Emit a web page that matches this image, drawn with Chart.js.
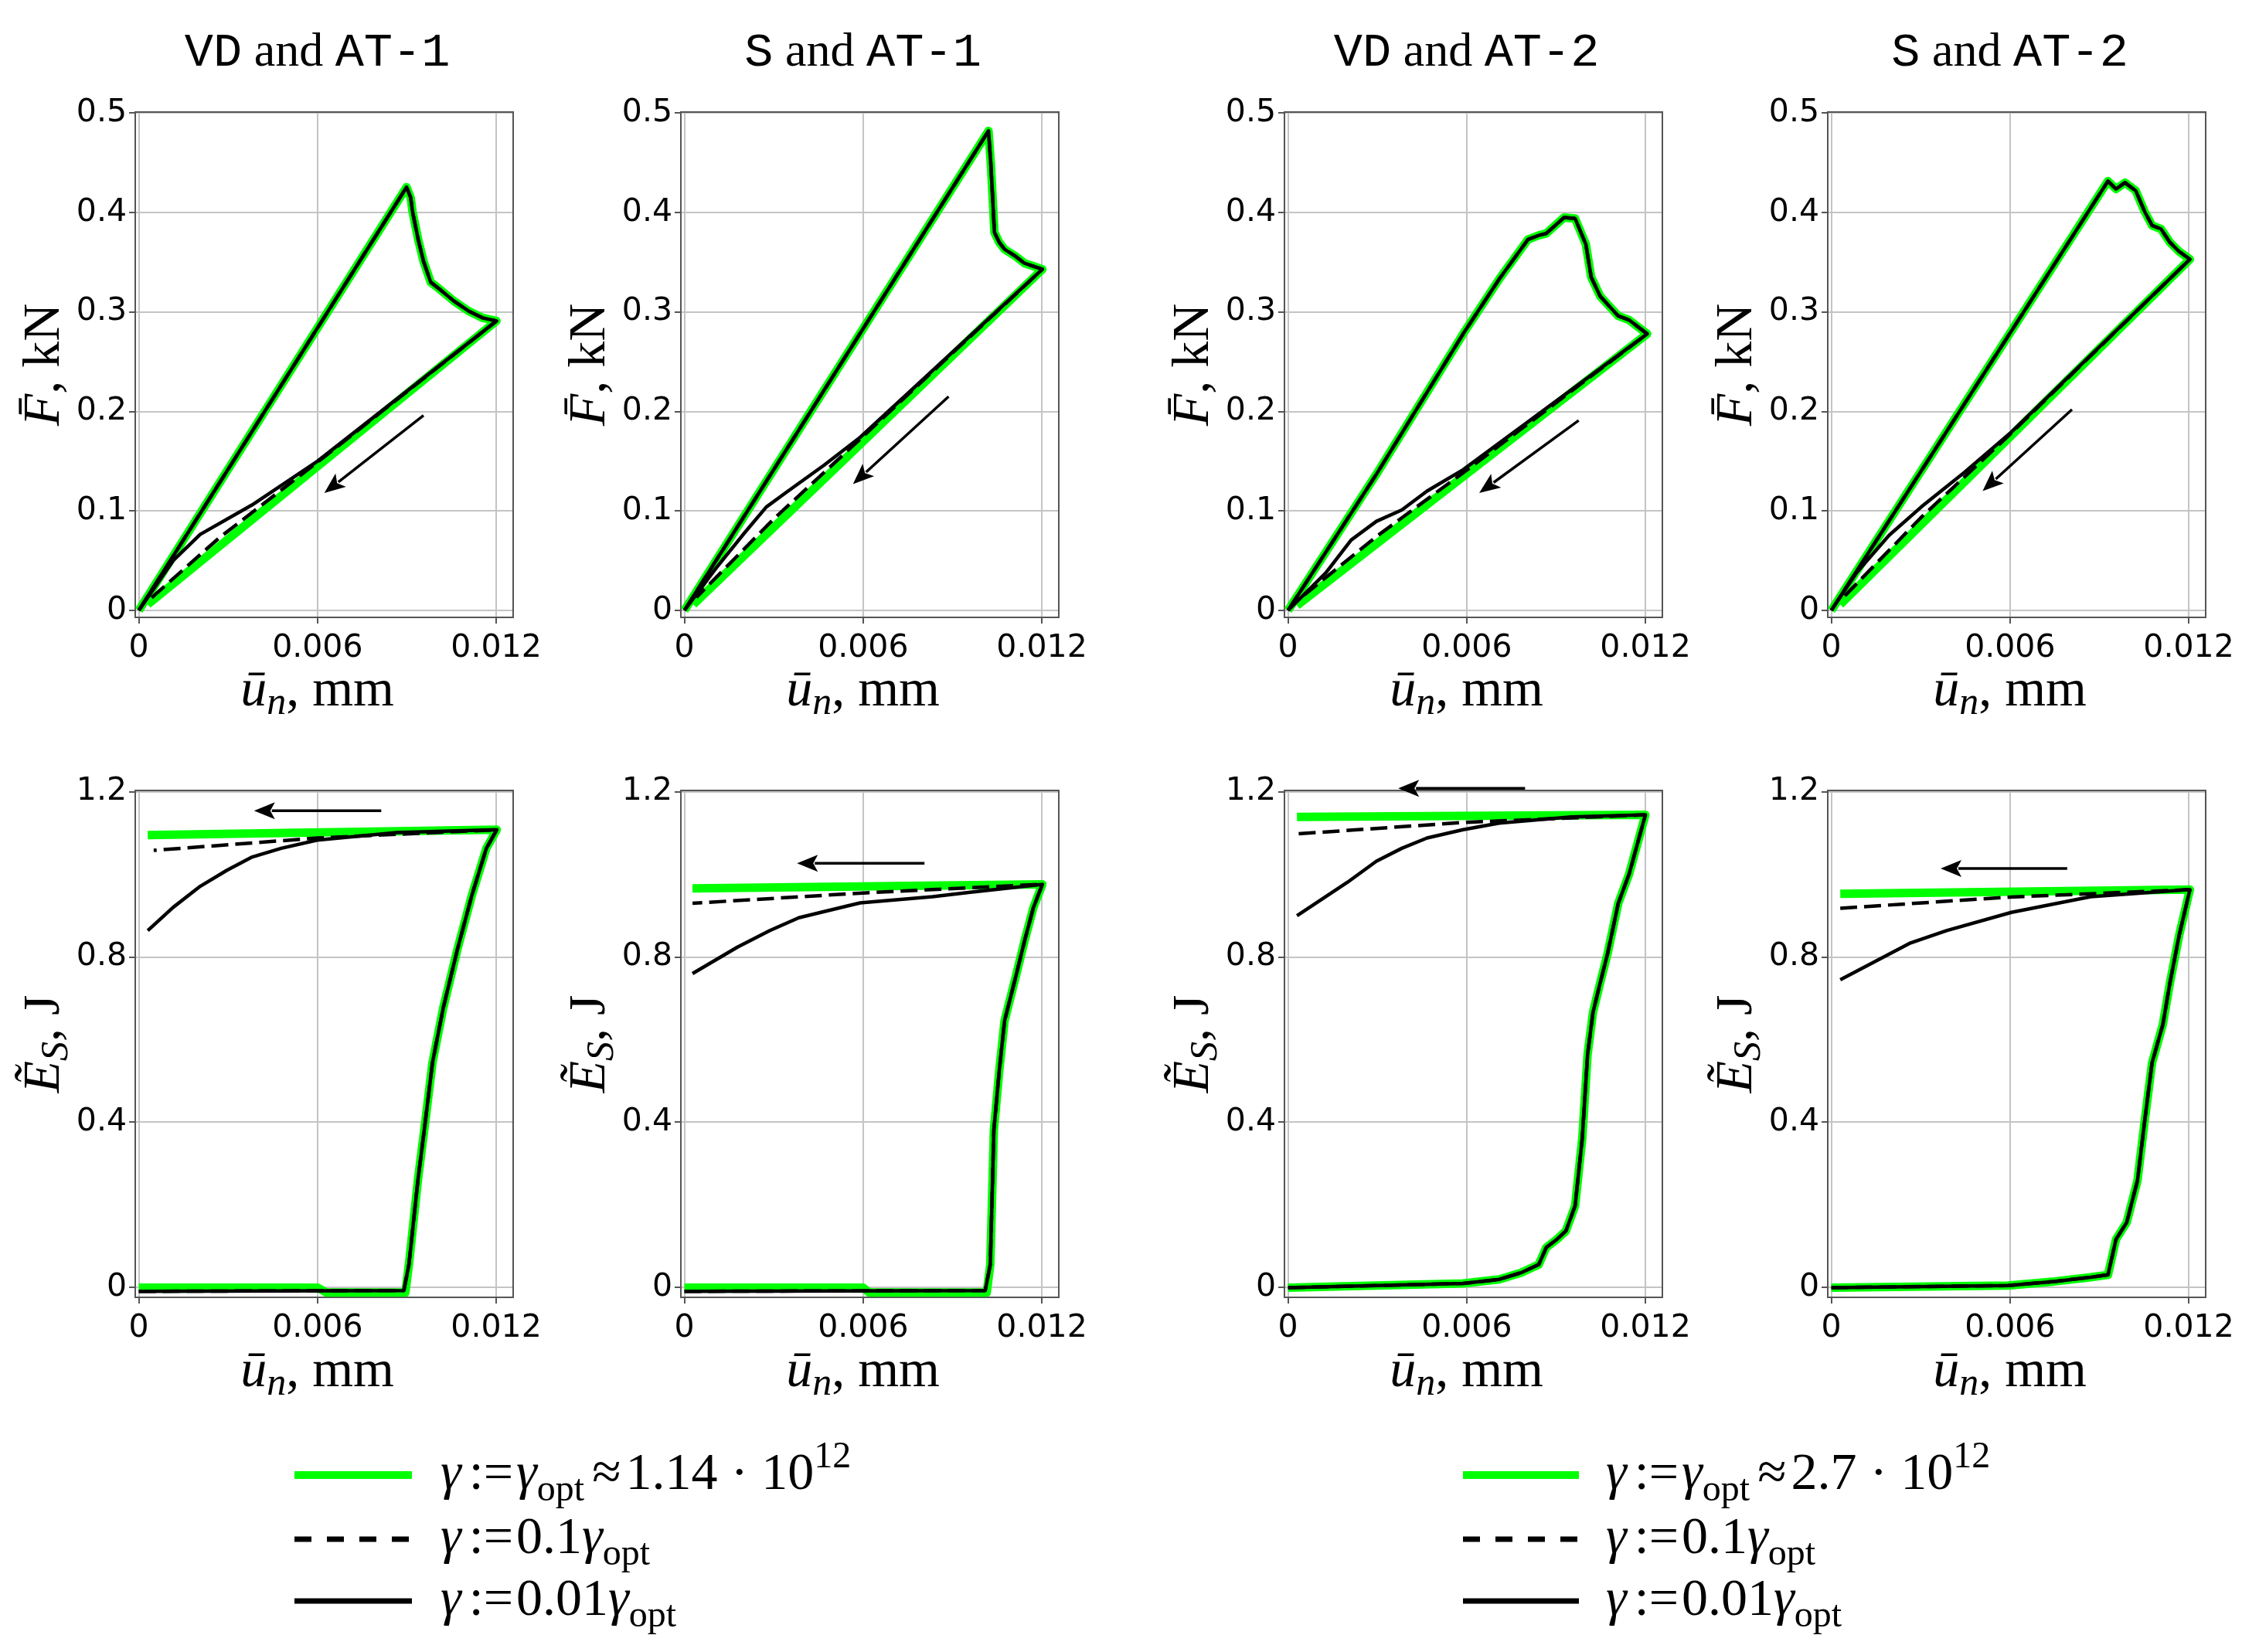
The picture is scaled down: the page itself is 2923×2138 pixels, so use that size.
<!DOCTYPE html>
<html>
<head>
<meta charset="utf-8">
<script src="https://cdn.jsdelivr.net/npm/chart.js@4.4.1/dist/chart.umd.min.js"></script>
<style>
  html, body { margin: 0; padding: 0; background: #fff; }
  #page { position: relative; width: 2923px; height: 2138px; overflow: hidden; background: #fff; }
  .cell { position: absolute; }
  #overlay { position: absolute; left: 0; top: 0; pointer-events: none; }
</style>
</head>
<body>
<div id="page"></div>
<script>
// ---- axis ticks and labels ----
const xTicks = [0, 0.006, 0.012];
const forceTicks = [0, 0.1, 0.2, 0.3, 0.4, 0.5];
const energyTicks = [0, 0.4, 0.8, 1.2];
const panelTitles = [['VD', 'AT-1'], ['S', 'AT-1'], ['VD', 'AT-2'], ['S', 'AT-2']];
const gammaOpt = ['1.14', '2.7'];

// ---- force curves [u, F] : loading branch, then unloading for each gamma ----
const forceLoadVD1 = [[0,0],[0.00899,0.4255],[0.00913,0.415],[0.00919,0.401],[0.00938,0.373],[0.00956,0.351],[0.0098,0.330],[0.0101,0.323],[0.01058,0.311],[0.01107,0.301],[0.01155,0.294],[0.01201,0.291]];
const forceOptVD1 = [[0.0003,0.006]];
const forceTenthVD1 = [[0.006,0.149],[0.0027,0.073],[0.0004,0.012]];
const forceHundredthVD1 = [[0.006,0.150],[0.0038,0.106],[0.00206,0.0764],[0.00115,0.050],[0,0]];

const forceLoadS1 = [[0,0],[0.01021,0.482],[0.01029,0.448],[0.01041,0.380],[0.01057,0.370],[0.01075,0.363],[0.01112,0.356],[0.01142,0.349],[0.01172,0.346],[0.01202,0.343]];
const forceOptS1 = [[0.0003,0.006]];
const forceTenthS1 = [[0.006,0.175],[0.003,0.092],[0.0004,0.013]];
const forceHundredthS1 = [[0.0059,0.174],[0.00469,0.146],[0.00348,0.120],[0.00275,0.104],[0.00202,0.078],[0.00105,0.042],[0,0]];

const forceLoadVD2 = [[0,0],[0.00297,0.137],[0.00588,0.278],[0.00709,0.333],[0.00806,0.373],[0.00842,0.377],[0.00867,0.379],[0.00927,0.395],[0.00964,0.394],[0.0100,0.368],[0.01018,0.335],[0.01048,0.316],[0.01109,0.296],[0.01145,0.292],[0.01206,0.278]];
const forceOptVD2 = [[0.0003,0.005]];
const forceTenthVD2 = [[0.006,0.141],[0.003,0.075],[0.0004,0.012]];
const forceHundredthVD2 = [[0.00588,0.1415],[0.00467,0.120],[0.00382,0.101],[0.00297,0.0896],[0.00212,0.0708],[0.00127,0.0377],[0,0]];

const forceLoadS2 = [[0,0],[0.00929,0.4316],[0.00956,0.4236],[0.00986,0.430],[0.01022,0.422],[0.01052,0.401],[0.01077,0.387],[0.01107,0.3835],[0.01137,0.370],[0.01167,0.361],[0.01204,0.353]];
const forceOptS2 = [[0.0003,0.006]];
const forceTenthS2 = [[0.006,0.177],[0.003,0.093],[0.0004,0.013]];
const forceHundredthS2 = [[0.006,0.178],[0.00448,0.139],[0.00302,0.104],[0.00194,0.0755],[0.00085,0.038],[0,0]];

// ---- energy curves [u, E] ----
const energyFlatOptVD1 = [[0,0],[0.006,0],[0.0063,-0.012],[0.00895,-0.012]];
const energyFlatBlackVD1 = [[0,-0.009],[0.0089,-0.007]];
const energyRiseVD1 = [[0.00907,0.056],[0.00937,0.259],[0.00962,0.402],[0.00986,0.544],[0.01022,0.676],[0.0107,0.819],[0.01119,0.951],[0.01167,1.063],[0.01202,1.108]];
const energyOptVD1 = [[0.0003,1.095]];
const energyTenthVD1 = [[0.006,1.088],[0.0005,1.058]];
const energyHundredthVD1 = [[0.00865,1.101],[0.00599,1.083],[0.00478,1.063],[0.00381,1.042],[0.00296,1.010],[0.00206,0.971],[0.00115,0.920],[0.0003,0.864]];

const energyFlatOptS1 = [[0,0],[0.006,0],[0.0062,-0.012],[0.01015,-0.012]];
const energyFlatBlackS1 = [[0,-0.009],[0.0101,-0.007]];
const energyRiseS1 = [[0.01027,0.056],[0.01039,0.381],[0.01057,0.524],[0.01075,0.646],[0.01111,0.748],[0.01142,0.839],[0.01172,0.92],[0.01202,0.976]];
const energyOptS1 = [[0.00027,0.966]];
const energyTenthS1 = [[0.006,0.955],[0.00027,0.93]];
const energyHundredthS1 = [[0.00954,0.956],[0.00833,0.946],[0.0059,0.931],[0.00469,0.91],[0.00384,0.895],[0.00287,0.864],[0.00178,0.824],[0.00027,0.76]];

const energyLoadVD2 = [[0,0],[0.00588,0.010],[0.00709,0.020],[0.00782,0.036],[0.00842,0.056],[0.00867,0.097],[0.00903,0.117],[0.00933,0.137],[0.00964,0.198],[0.00988,0.361],[0.01006,0.565],[0.01024,0.666],[0.01048,0.737],[0.01073,0.808],[0.01109,0.93],[0.01145,1.0],[0.012,1.144]];
const energyOptVD2 = [[0.0003,1.139]];
const energyTenthVD2 = [[0.006,1.126],[0.0003,1.098]];
const energyHundredthVD2 = [[0.00951,1.139],[0.00709,1.124],[0.00588,1.108],[0.00467,1.088],[0.00382,1.063],[0.00297,1.032],[0.002,0.981],[0.0003,0.9]];

const energyLoadS2 = [[0,0],[0.00593,0.005],[0.0075,0.015],[0.00871,0.025],[0.00929,0.031],[0.00956,0.117],[0.00992,0.158],[0.01028,0.259],[0.01052,0.402],[0.01077,0.544],[0.01113,0.636],[0.01137,0.737],[0.01167,0.849],[0.01204,0.963]];
const energyOptS2 = [[0.0003,0.953]];
const energyTenthS2 = [[0.006,0.945],[0.0003,0.918]];
const energyHundredthS2 = [[0.00871,0.946],[0.00605,0.908],[0.00387,0.864],[0.00266,0.834],[0.0003,0.745]];

// arrows [tail, head] in data units
const forceArrows = [[[0.00956,0.196],[0.00623,0.118]], [[0.00887,0.215],[0.00566,0.127]], [[0.00976,0.191],[0.00642,0.118]], [[0.00808,0.202],[0.00508,0.120]]];
const energyArrows = [[[0.00814,1.154],[0.00387,1.154]], [[0.00806,1.027],[0.00378,1.027]], [[0.00796,1.208],[0.0037,1.208]], [[0.00792,1.014],[0.00367,1.014]]];

// ---- layout ----
const frameLefts = [175, 881, 1662, 2365];
const frameW = 489;
const rows = [
  { top: 145, h: 654, min: -0.007, max: 0.501, ticks: forceTicks },
  { top: 1023, h: 656, min: -0.0235, max: 1.203, ticks: energyTicks }
];
const GREEN = '#00ff00';

const panels = [
  { row: 0, col: 0, green: forceLoadVD1.concat(forceOptVD1), dashed: forceLoadVD1.concat(forceTenthVD1), solid: forceLoadVD1.concat(forceHundredthVD1), arrow: forceArrows[0] },
  { row: 0, col: 1, green: forceLoadS1.concat(forceOptS1), dashed: forceLoadS1.concat(forceTenthS1), solid: forceLoadS1.concat(forceHundredthS1), arrow: forceArrows[1] },
  { row: 0, col: 2, green: forceLoadVD2.concat(forceOptVD2), dashed: forceLoadVD2.concat(forceTenthVD2), solid: forceLoadVD2.concat(forceHundredthVD2), arrow: forceArrows[2] },
  { row: 0, col: 3, green: forceLoadS2.concat(forceOptS2), dashed: forceLoadS2.concat(forceTenthS2), solid: forceLoadS2.concat(forceHundredthS2), arrow: forceArrows[3] },
  { row: 1, col: 0, green: energyFlatOptVD1.concat(energyRiseVD1, energyOptVD1), dashed: energyFlatBlackVD1.concat(energyRiseVD1, energyTenthVD1), solid: energyFlatBlackVD1.concat(energyRiseVD1, energyHundredthVD1), arrow: energyArrows[0] },
  { row: 1, col: 1, green: energyFlatOptS1.concat(energyRiseS1, energyOptS1), dashed: energyFlatBlackS1.concat(energyRiseS1, energyTenthS1), solid: energyFlatBlackS1.concat(energyRiseS1, energyHundredthS1), arrow: energyArrows[1] },
  { row: 1, col: 2, green: energyLoadVD2.concat(energyOptVD2), dashed: energyLoadVD2.concat(energyTenthVD2), solid: energyLoadVD2.concat(energyHundredthVD2), arrow: energyArrows[2] },
  { row: 1, col: 3, green: energyLoadS2.concat(energyOptS2), dashed: energyLoadS2.concat(energyTenthS2), solid: energyLoadS2.concat(energyHundredthS2), arrow: energyArrows[3] }
];

const toXY = pts => pts.map(p => ({ x: p[0], y: p[1] }));

// frame around the plot and the direction arrow
const framePlugin = {
  id: 'frame',
  beforeDatasetsDraw(chart) {
    const a = chart.chartArea, c = chart.ctx;
    c.save();
    c.strokeStyle = '#555';
    c.lineWidth = 2;
    c.strokeRect(a.left, a.top, a.right - a.left, a.bottom - a.top);
    c.restore();
  },
  afterDatasetsDraw(chart, args, opts) {
    if (!opts.arrow) return;
    const xs = chart.scales.x, ys = chart.scales.y, c = chart.ctx;
    const x1 = xs.getPixelForValue(opts.arrow[0][0]), y1 = ys.getPixelForValue(opts.arrow[0][1]);
    const x2 = xs.getPixelForValue(opts.arrow[1][0]), y2 = ys.getPixelForValue(opts.arrow[1][1]);
    const ang = Math.atan2(y2 - y1, x2 - x1);
    const hl = 27, hw = 11;
    const bx = x2 - hl * Math.cos(ang), by = y2 - hl * Math.sin(ang);
    c.save();
    c.strokeStyle = '#000';
    c.fillStyle = '#000';
    c.lineWidth = 3.5;
    c.beginPath(); c.moveTo(x1, y1); c.lineTo(bx + 4 * Math.cos(ang), by + 4 * Math.sin(ang)); c.stroke();
    c.beginPath();
    c.moveTo(x2, y2);
    c.lineTo(bx + hw * Math.sin(ang), by - hw * Math.cos(ang));
    c.lineTo(bx + 6 * Math.cos(ang), by + 6 * Math.sin(ang));
    c.lineTo(bx - hw * Math.sin(ang), by + hw * Math.cos(ang));
    c.closePath();
    c.fill();
    c.restore();
  }
};

const page = document.getElementById('page');
const tickFont = { family: 'DejaVu Sans', size: 41 };

panels.forEach(p => {
  const r = rows[p.row];
  const left = frameLefts[p.col];
  const div = document.createElement('div');
  div.className = 'cell';
  div.style.left = (left - 150) + 'px';
  div.style.top = (r.top - 40) + 'px';
  div.style.width = (frameW + 210) + 'px';
  div.style.height = (r.h + 120) + 'px';
  const cv = document.createElement('canvas');
  div.appendChild(cv);
  page.appendChild(div);

  new Chart(cv, {
    type: 'scatter',
    data: {
      datasets: [
        { data: toXY(p.solid), showLine: true, borderColor: '#000', borderWidth: 4.5, pointRadius: 0, borderJoinStyle: 'round' },
        { data: toXY(p.dashed), showLine: true, borderColor: '#000', borderWidth: 4.5, borderDash: [22, 9], pointRadius: 0, borderJoinStyle: 'round' },
        { data: toXY(p.green), showLine: true, borderColor: GREEN, borderWidth: 11, pointRadius: 0, borderJoinStyle: 'round' }
      ]
    },
    plugins: [framePlugin],
    options: {
      responsive: true,
      maintainAspectRatio: false,
      animation: false,
      devicePixelRatio: 1,
      layout: { padding: { top: 40, right: 60, left: 0, bottom: 0 } },
      plugins: {
        legend: { display: false },
        tooltip: { enabled: false },
        frame: { arrow: p.arrow }
      },
      scales: {
        x: {
          type: 'linear',
          min: -0.00012,
          max: 0.01257,
          afterBuildTicks: s => { s.ticks = xTicks.map(v => ({ value: v })); },
          afterFit: s => { s.height = 80; },
          ticks: { font: tickFont, color: '#000', padding: 8, maxRotation: 0, minRotation: 0, autoSkip: false, callback: v => String(v) },
          grid: { color: '#c4c4c4', lineWidth: 2, tickLength: 8, tickColor: '#555', tickWidth: 2 },
          border: { display: false }
        },
        y: {
          type: 'linear',
          min: r.min,
          max: r.max,
          afterBuildTicks: s => { s.ticks = r.ticks.map(v => ({ value: v })); },
          afterFit: s => { s.width = 150; },
          ticks: { font: tickFont, color: '#000', padding: 3, autoSkip: false, callback: v => String(v) },
          grid: { color: '#c4c4c4', lineWidth: 2, tickLength: 8, tickColor: '#555', tickWidth: 2 },
          border: { display: false }
        }
      }
    }
  });
});

// ---- text overlay: titles, axis titles, legends ----
const svgNS = 'http://www.w3.org/2000/svg';
const MONO = "font-family:'Liberation Mono','Courier New',monospace";
const SERIF = "font-family:'Liberation Serif','Times New Roman',serif";
let s = '';
panelTitles.forEach((t, i) => {
  const cx = frameLefts[i] + 4.6 + 231;
  s += `<text x="${cx}" y="85" text-anchor="middle" font-size="62" style="white-space:pre"><tspan style="${MONO}">${t[0]}</tspan><tspan style="${SERIF}"> and </tspan><tspan style="${MONO}">${t[1]}</tspan></text>`;
  [913, 1794].forEach(by => {
    s += `<text x="${cx}" y="${by}" text-anchor="middle" font-size="68" style="white-space:pre;${SERIF}"><tspan font-style="italic">\u016B</tspan><tspan font-style="italic" font-size="50" dy="11">n</tspan><tspan dy="-11">, mm</tspan></text>`;
  });
  const yx = frameLefts[i] - 99;
  s += `<text transform="translate(${yx},472) rotate(-90)" text-anchor="middle" font-size="68" style="white-space:pre;${SERIF}"><tspan font-style="italic">F\u0304</tspan><tspan>, kN</tspan></text>`;
  s += `<text transform="translate(${yx},1351) rotate(-90)" text-anchor="middle" font-size="68" style="white-space:pre;${SERIF}"><tspan font-style="italic">\u1EBC</tspan><tspan font-style="italic" font-size="50" dy="11">S</tspan><tspan dy="-11">, J</tspan></text>`;
});

const legendX = [[381, 533, 570], [1893, 2043, 2078]];
const legendRows = [1909, 1992, 2072];
legendX.forEach((lx, k) => {
  s += `<line x1="${lx[0]}" x2="${lx[1]}" y1="${legendRows[0]}" y2="${legendRows[0]}" stroke="${GREEN}" stroke-width="10"/>`;
  s += `<line x1="${lx[0]}" x2="${lx[1]}" y1="${legendRows[1]}" y2="${legendRows[1]}" stroke="#000" stroke-width="7" stroke-dasharray="22 20"/>`;
  s += `<line x1="${lx[0]}" x2="${lx[1]}" y1="${legendRows[2]}" y2="${legendRows[2]}" stroke="#000" stroke-width="7"/>`;
  const g = '<tspan font-style="italic">\u03B3</tspan><tspan dx="10">:=</tspan>';
  const opt = '<tspan font-size="48" dy="15">opt</tspan>';
  s += `<text x="${lx[2]}" y="${legendRows[0] + 18}" font-size="68" style="white-space:pre;${SERIF}">${g}<tspan font-style="italic" dx="4">\u03B3</tspan>${opt}<tspan dy="-15" dx="10">\u2248</tspan><tspan dx="6">${gammaOpt[k]} \u00B7 10</tspan><tspan font-size="48" dy="-28">12</tspan></text>`;
  s += `<text x="${lx[2]}" y="${legendRows[1] + 18}" font-size="68" style="white-space:pre;${SERIF}">${g}<tspan dx="4">0.1</tspan><tspan font-style="italic">\u03B3</tspan>${opt}</text>`;
  s += `<text x="${lx[2]}" y="${legendRows[2] + 18}" font-size="68" style="white-space:pre;${SERIF}">${g}<tspan dx="4">0.01</tspan><tspan font-style="italic">\u03B3</tspan>${opt}</text>`;
});

const svg = document.createElementNS(svgNS, 'svg');
svg.setAttribute('id', 'overlay');
svg.setAttribute('width', '2923');
svg.setAttribute('height', '2138');
svg.innerHTML = s;
page.appendChild(svg);
</script>
</body>
</html>
